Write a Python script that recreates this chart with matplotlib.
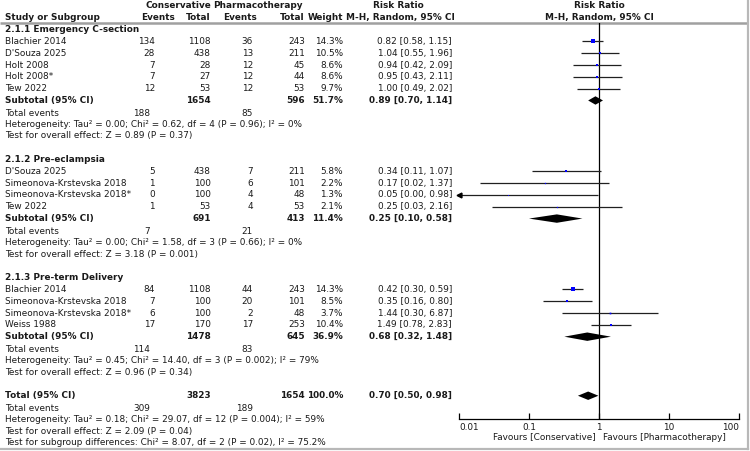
import matplotlib
matplotlib.use("Agg")
import matplotlib.pyplot as plt
from matplotlib.patches import Polygon


# Subgroups
group_titles = ["2.1.1 Emergency C-section", "2.1.2 Pre-eclampsia", "2.1.3 Pre-term Delivery"]

# Study level data
group_of = [0, 0, 0, 0, 0, 1, 1, 1, 1, 2, 2, 2, 2]
studies = ["Blachier 2014", "D'Souza 2025", "Holt 2008", "Holt 2008*", "Tew 2022",
           "D'Souza 2025", "Simeonova-Krstevska 2018", "Simeonova-Krstevska 2018*", "Tew 2022",
           "Blachier 2014", "Simeonova-Krstevska 2018", "Simeonova-Krstevska 2018*", "Weiss 1988"]
ev_c = [134, 28, 7, 7, 12, 5, 1, 0, 1, 84, 7, 6, 17]
tot_c = [1108, 438, 28, 27, 53, 438, 100, 100, 53, 1108, 100, 100, 170]
ev_p = [36, 13, 12, 12, 12, 7, 6, 4, 4, 44, 20, 2, 17]
tot_p = [243, 211, 45, 44, 53, 211, 101, 48, 53, 243, 101, 48, 253]
weight = [14.3, 10.5, 8.6, 8.6, 9.7, 5.8, 2.2, 1.3, 2.1, 14.3, 8.5, 3.7, 10.4]
rr = [0.82, 1.04, 0.94, 0.95, 1.00, 0.34, 0.17, 0.05, 0.25, 0.42, 0.35, 1.44, 1.49]
ci_lo = [0.58, 0.55, 0.42, 0.43, 0.49, 0.11, 0.02, 0.00, 0.03, 0.30, 0.16, 0.30, 0.78]
ci_hi = [1.15, 1.96, 2.09, 2.11, 2.02, 1.07, 1.37, 0.98, 2.16, 0.59, 0.80, 6.87, 2.83]

# Subtotals
sub_tot_c = [1654, 691, 1478]
sub_tot_p = [596, 413, 645]
sub_weight = [51.7, 11.4, 36.9]
sub_rr = [0.89, 0.25, 0.68]
sub_lo = [0.70, 0.10, 0.32]
sub_hi = [1.14, 0.58, 1.48]
sub_ev_c = [188, 7, 114]
sub_ev_p = [85, 21, 83]
sub_het = ["Heterogeneity: Tau² = 0.00; Chi² = 0.62, df = 4 (P = 0.96); I² = 0%",
           "Heterogeneity: Tau² = 0.00; Chi² = 1.58, df = 3 (P = 0.66); I² = 0%",
           "Heterogeneity: Tau² = 0.45; Chi² = 14.40, df = 3 (P = 0.002); I² = 79%"]
sub_test = ["Test for overall effect: Z = 0.89 (P = 0.37)",
            "Test for overall effect: Z = 3.18 (P = 0.001)",
            "Test for overall effect: Z = 0.96 (P = 0.34)"]

# Overall
total_tot_c = 3823
total_tot_p = 1654
total_weight = 100.0
total_rr = 0.70
total_lo = 0.50
total_hi = 0.98
total_ev_c = 309
total_ev_p = 189
total_het = "Heterogeneity: Tau² = 0.18; Chi² = 29.07, df = 12 (P = 0.004); I² = 59%"
total_test = "Test for overall effect: Z = 2.09 (P = 0.04)"
subgroup_test = "Test for subgroup differences: Chi² = 8.07, df = 2 (P = 0.02), I² = 75.2%"

x_ticks = [0.01, 0.1, 1, 10, 100]
x_tick_labels = ["0.01", "0.1", "1", "10", "100"]


FS = 6.4
TXT = "#1a1a1a"
plt.rcParams["font.family"] = ["DejaVu Sans"]

W, H = 750, 451


def row_y(r):
    return 6 + 11.81 * r


# column anchors (pixels, right aligned)
X_NAME = 5
X_EVC = 155
X_TOTC = 211
X_EVP = 253
X_TOTP = 305
X_WT = 343
X_RR = 452
X_ONE = 599

fig = plt.figure(figsize=(W / 100, H / 100), dpi=100)
ax = fig.add_axes([0, 0, 1, 1])
ax.set_xlim(0, W)
ax.set_ylim(H, 0)
ax.axis("off")

# forest axes, from header line down to the axis line
top_px, bot_px = 23, 419
fx = fig.add_axes([459 / W, (H - bot_px) / H, (739 - 459) / W, (bot_px - top_px) / H])
fx.set_xscale("log")
fx.set_xlim(x_ticks[0], x_ticks[-1])
fx.set_ylim(bot_px, top_px)
fx.patch.set_alpha(0)
for s in ["top", "left", "right"]:
    fx.spines[s].set_visible(False)
fx.spines["bottom"].set_linewidth(0.9)
fx.set_yticks([])
fx.set_xticks(x_ticks)
fx.set_xticklabels(x_tick_labels)
fx.minorticks_off()
fx.tick_params(axis="x", direction="in", length=4, width=0.9, pad=3,
               labelsize=FS, labelcolor=TXT)
labels = fx.get_xticklabels()
labels[0].set_ha("left")
labels[-1].set_ha("right")
fx.axvline(1, color="black", lw=0.9)


def txt(x, r, s, ha="right", bold=False):
    ax.text(x, row_y(r), s, ha=ha, va="center", fontsize=FS, color=TXT,
            fontweight="bold" if bold else "normal")


def diamond(r, est, lo, hi):
    y = row_y(r)
    h = 4.2
    fx.add_patch(Polygon([[lo, y], [est, y - h], [hi, y], [est, y + h]],
                         closed=True, color="black", lw=0))


# header
txt(178, 0, "Conservative", ha="center", bold=True)
txt(258, 0, "Pharmacotherapy", ha="center", bold=True)
txt(398, 0, "Risk Ratio", ha="center", bold=True)
txt(X_ONE, 0, "Risk Ratio", ha="center", bold=True)
txt(X_NAME, 0.95, "Study or Subgroup", ha="left", bold=True)
txt(175, 0.95, "Events", bold=True)
txt(X_TOTC, 0.95, "Total", bold=True)
txt(257, 0.95, "Events", bold=True)
txt(X_TOTP, 0.95, "Total", bold=True)
txt(X_WT, 0.95, "Weight", bold=True)
txt(400, 0.95, "M-H, Random, 95% CI", ha="center", bold=True)
txt(X_ONE, 0.95, "M-H, Random, 95% CI", ha="center", bold=True)

# frame lines
ax.plot([0, 747], [22.7, 22.7], color="#a0a0a0", lw=1.8, solid_capstyle="butt")
ax.plot([747.5, 747.5], [0, 449], color="#b8b8b8", lw=1.6)
ax.plot([0, 747.5], [448.8, 448.8], color="#b8b8b8", lw=1.6)

r = 2
for g, title in enumerate(group_titles):
    txt(X_NAME, r, title, ha="left", bold=True)
    r += 1
    for i in range(len(studies)):
        if group_of[i] != g:
            continue
        txt(X_NAME, r, studies[i], ha="left")
        txt(X_EVC, r, str(ev_c[i]))
        txt(X_TOTC, r, str(tot_c[i]))
        txt(X_EVP, r, str(ev_p[i]))
        txt(X_TOTP, r, str(tot_p[i]))
        txt(X_WT, r, f"{weight[i]:.1f}%")
        txt(X_RR, r, f"{rr[i]:.2f} [{ci_lo[i]:.2f}, {ci_hi[i]:.2f}]")
        y = row_y(r)
        lo = max(ci_lo[i], x_ticks[0])
        fx.plot([lo, ci_hi[i]], [y, y], color="#202020", lw=0.9, solid_capstyle="butt")
        if ci_lo[i] < x_ticks[0]:
            fx.plot([x_ticks[0]], [y], marker="<", ms=3.5, color="black", clip_on=False)
        fx.plot([rr[i]], [y], marker="s", ms=weight[i] ** 0.5 * 0.62, color="#0000ff", mew=0)
        r += 1
    txt(X_NAME, r, "Subtotal (95% CI)", ha="left", bold=True)
    txt(X_TOTC, r, str(sub_tot_c[g]), bold=True)
    txt(X_TOTP, r, str(sub_tot_p[g]), bold=True)
    txt(X_WT, r, f"{sub_weight[g]:.1f}%", bold=True)
    txt(X_RR, r, f"{sub_rr[g]:.2f} [{sub_lo[g]:.2f}, {sub_hi[g]:.2f}]", bold=True)
    diamond(r, sub_rr[g], sub_lo[g], sub_hi[g])
    r += 1
    txt(X_NAME, r + 0.08, "Total events", ha="left")
    txt(150, r + 0.08, str(sub_ev_c[g]))
    txt(X_EVP, r + 0.08, str(sub_ev_p[g]))
    r += 1
    txt(X_NAME, r, sub_het[g], ha="left")
    r += 1
    txt(X_NAME, r, sub_test[g], ha="left")
    r += 2

txt(X_NAME, r, "Total (95% CI)", ha="left", bold=True)
txt(X_TOTC, r, str(total_tot_c), bold=True)
txt(X_TOTP, r, str(total_tot_p), bold=True)
txt(X_WT, r, f"{total_weight:.1f}%", bold=True)
txt(X_RR, r, f"{total_rr:.2f} [{total_lo:.2f}, {total_hi:.2f}]", bold=True)
diamond(r, total_rr, total_lo, total_hi)
r += 1
txt(X_NAME, r + 0.08, "Total events", ha="left")
txt(150, r + 0.08, str(total_ev_c))
txt(X_EVP, r + 0.08, str(total_ev_p))
r += 1
txt(X_NAME, r, total_het, ha="left")
r += 1
txt(X_NAME, r, total_test, ha="left")
r += 1
txt(X_NAME, r, subgroup_test, ha="left")

# favours labels under the axis
ax.text(596, 437, "Favours [Conservative]", ha="right", va="center", fontsize=FS, color=TXT)
ax.text(603, 437, "Favours [Pharmacotherapy]", ha="left", va="center", fontsize=FS, color=TXT)

fig.savefig("out.png", dpi=100)
